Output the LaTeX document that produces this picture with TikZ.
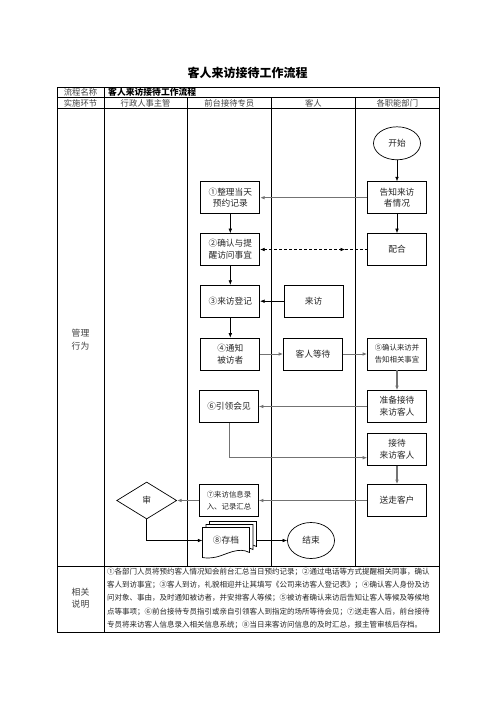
\documentclass[tikz,border=0pt]{standalone}
\usepackage{fontspec}
\setmainfont{Noto Sans CJK SC}
\usetikzlibrary{arrows.meta,shapes.geometric}
\XeTeXlinebreaklocale "zh"
\XeTeXlinebreakskip=0pt plus 1pt
\tikzset{docpage/.pic={\draw[line width=0.7pt, fill=white] (0,0) -- (47,0) -- (47,25) .. controls (36,19) and (24,27) .. (14,29.5) .. controls (7,31) and (3,30.5) .. (0,30) -- cycle;}}
\begin{document}
\begin{tikzpicture}[x=1pt,y=-1pt,
  every node/.style={text=black!85},
  >={Latex[length=4.5pt,width=3.6pt]},
  tline/.style={line width=0.8pt},
  box/.style={draw, line width=0.7pt, minimum width=59pt, minimum height=32pt, inner sep=1pt, align=center, font=\fontsize{8.7pt}{11.7pt}\selectfont},
  smallbox/.style={box, font=\fontsize{7.4pt}{11.7pt}\selectfont},
  oval/.style={draw, ellipse, line width=0.7pt, minimum width=47pt, minimum height=34pt, inner sep=0pt, font=\fontsize{8.7pt}{11.7pt}\selectfont},
  arr/.style={->, line width=0.6pt},
  garr/.style={->, line width=1.1pt, draw=black!55},
  hdr/.style={font=\fontsize{8.3pt}{10pt}\selectfont, text=black!75, inner sep=0pt},
  expl/.style={anchor=west, inner sep=0pt, font=\fontsize{7.5pt}{10pt}\selectfont}
]
\useasboundingbox[fill=white] (0,0) rectangle (496,702);

% table
\draw[tline] (57,87.3) rectangle (439,632);
\draw[tline] (57,97.7) -- (439,97.7);
\draw[tline] (57,108.7) -- (439,108.7);
\draw[tline] (57,566.7) -- (439,566.7);
\draw[tline] (104,87.3) -- (104,632);
\foreach \x in {187.3,271.3,355.5} \draw[tline] (\x,97.7) -- (\x,566.7);

\node[font=\bfseries\fontsize{12pt}{14pt}\selectfont, text=black] (title) at (247.7,73) {客人来访接待工作流程};
\node[hdr] (lcmc) at (80.5,92.5) {流程名称};
\node[anchor=west, font=\bfseries\fontsize{8.8pt}{10pt}\selectfont, text=black, inner sep=0pt] (lcname) at (108,92.5) {客人来访接待工作流程};
\node[hdr] (sshj) at (80.5,103.2) {实施环节};
\node[hdr] (h1) at (145.6,103.2) {行政人事主管};
\node[hdr] (h2) at (229.3,103.2) {前台接待专员};
\node[hdr] (h3) at (313.4,103.2) {客人};
\node[hdr] (h4) at (397.3,103.2) {各职能部门};
\node[hdr, align=center, font=\fontsize{8.8pt}{13pt}\selectfont] (glxw) at (80.5,340) {管理\\行为};
\node[hdr, align=center, font=\fontsize{8.8pt}{12pt}\selectfont] (xgsm) at (80.5,598.5) {相关\\说明};

\node[expl] (e1) at (107,572) {\makebox[324pt][s]{①各部门人员将预约客人情况知会前台汇总当日预约记录；②通过电话等方式提醒相关同事，确认}};
\node[expl] (e2) at (107,585.2) {\makebox[324pt][s]{客人到访事宜；③客人到访，礼貌相迎并让其填写《公司来访客人登记表》；④确认客人身份及访}};
\node[expl] (e3) at (107,598.4) {\makebox[324pt][s]{问对象、事由，及时通知被访者，并安排客人等候；⑤被访者确认来访后告知让客人等候及等候地}};
\node[expl] (e4) at (107,611.6) {\makebox[324pt][s]{点等事项；⑥前台接待专员指引或亲自引领客人到指定的场所等待会见；⑦送走客人后，前台接待}};
\node[expl] (e5) at (107,624.8) {专员将来访客人信息录入相关信息系统；⑧当日来客访问信息的及时汇总，报主管审核后存档。};

% flow nodes
\node[oval, minimum height=33pt] (start) at (397,143.3) {开始};
\node[box] (gz) at (397,197.7) {告知来访\\者情况};
\node[box] (n1) at (230.3,197.7) {①整理当天\\预约记录};
\node[box] (n2) at (230.3,249.5) {②确认与提\\醒访问事宜};
\node[box] (ph) at (397,249.5) {配合};
\node[box] (n3) at (230.3,301.2) {③来访登记};
\node[box] (lf) at (313.5,301.2) {来访};
\node[box] (n4) at (230.3,354) {④通知\\被访者};
\node[box] (dd) at (313,354) {客人等待};
\node[smallbox] (n5) at (397,354) {⑤确认来访并\\告知相关事宜};
\node[box] (zb) at (397,406.5) {准备接待\\来访客人};
\node[box] (n6) at (229,406.5) {⑥引领会见};
\node[box] (jd) at (397,449.2) {接待\\来访客人};
\node[box] (sz) at (397,500.5) {送走客户};
\node[smallbox] (n7) at (229,500.5) {⑦来访信息录\\入、记录汇总};
\node[draw, diamond, line width=0.7pt, minimum width=60pt, minimum height=37pt, inner sep=0pt, font=\fontsize{8.7pt}{11.7pt}\selectfont] (sh) at (146.7,500.5) {审};
\pic at (209.5,521.5) {docpage};
\pic at (206,524.5) {docpage};
\pic at (202.5,527.5) {docpage};
\node[minimum width=47pt, minimum height=26pt, inner sep=0pt, font=\fontsize{8.7pt}{11.7pt}\selectfont] (n8) at (226,540.5) {⑧存档};
\node[oval, minimum height=36pt] (end) at (311,540.5) {结束};

% connectors
\coordinate (dm) at (345,249.5);
\draw[arr] (start) -- (gz);
\draw[garr] (gz) -- (n1);
\draw[arr] (n1) -- (n2);
\draw[arr] (gz) -- (ph);
\draw[<->, line width=0.6pt, dash pattern=on 3pt off 2pt] (n2.east) -- (dm);
\draw[line width=0.6pt, dash pattern=on 3pt off 2pt] (dm) -- (ph.west);
\draw[arr] (lf) -- (n3);
\draw[arr] (n2) -- (n3);
\draw[arr] (n3) -- (n4);
\draw[garr, line width=0.9pt] (n4) -- (dd);
\draw[garr, line width=0.9pt] (dd) -- (n5);
\draw[garr] (n5) -- (zb);
\draw[garr, line width=0.8pt] (zb) -- (n6);
\draw[garr, line width=0.8pt] (n6.south) |- ([yshift=-8.5pt]jd.west);
\draw[garr] (jd) -- (sz);
\draw[garr, line width=0.8pt] (sz) -- (n7);
\draw[garr, line width=1.3pt] (n7) -- (sh);
\draw[arr] (sh.south) |- (n8.west);
\draw[arr] ([xshift=7pt]n8.east) -- (end);
\end{tikzpicture}
\end{document}
